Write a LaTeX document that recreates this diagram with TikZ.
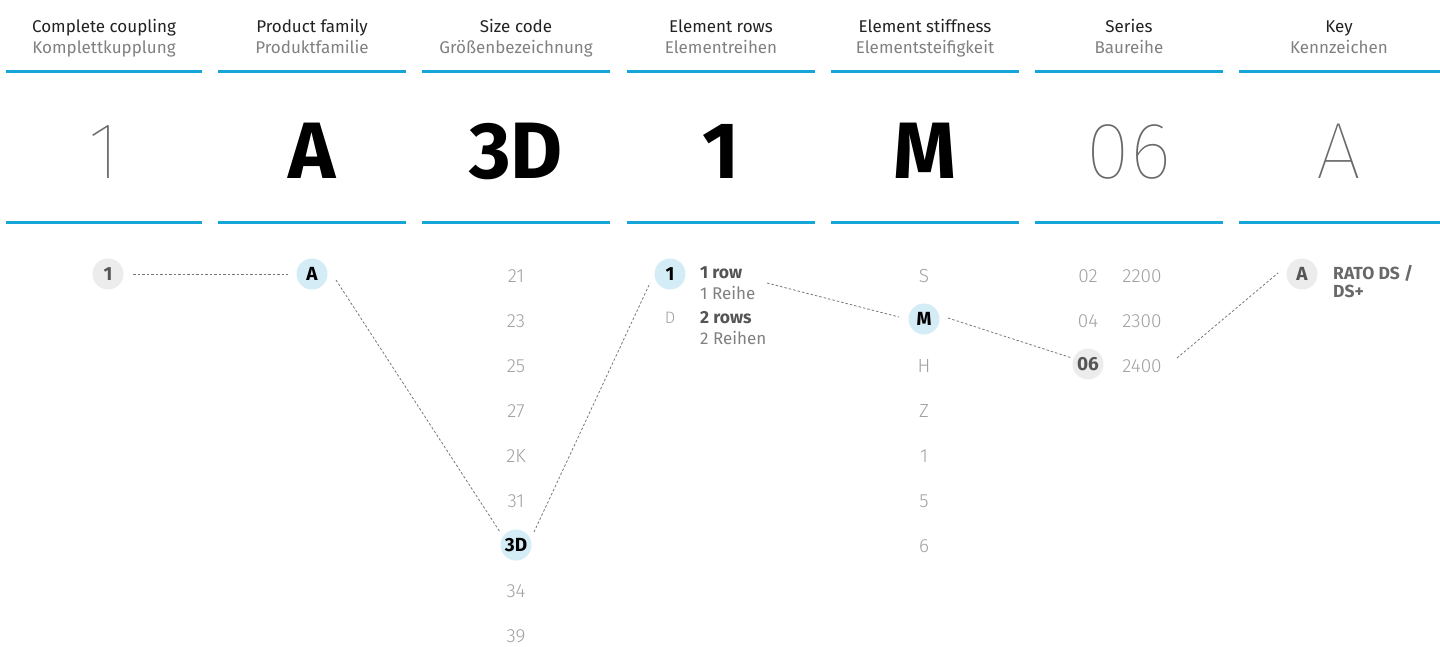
\documentclass[tikz,border=0pt]{standalone}
\usepackage{fontspec}
\setmainfont{Fira Sans}
\newfontfamily\lightfont{Fira Sans Light}
\newfontfamily\thinfont{Fira Sans Thin}
\usetikzlibrary{calc}

\definecolor{barblue}{RGB}{22,165,215}
\definecolor{pickblue}{RGB}{211,236,246}
\definecolor{pickgray}{RGB}{236,236,236}
\definecolor{hdrdark}{RGB}{34,34,34}
\definecolor{hdrgray}{RGB}{128,128,128}
\definecolor{itemgray}{RGB}{160,160,160}
\definecolor{biggray}{RGB}{105,105,105}
\definecolor{pickdark}{RGB}{85,85,85}
\definecolor{conngray}{RGB}{120,120,120}

\tikzset{
  hdrEN/.style={font=\fontsize{17}{20}\selectfont, text=hdrdark, anchor=base, inner sep=0pt},
  hdrDE/.style={font=\fontsize{17}{20}\selectfont, text=hdrgray, anchor=base, inner sep=0pt},
  bar/.style={line width=3pt, draw=barblue},
  bigbold/.style={font=\fontsize{80}{80}\selectfont\bfseries, text=black, anchor=base, inner sep=0pt},
  bigthin/.style={font=\fontsize{80}{80}\selectfont\thinfont, text=biggray, anchor=base, inner sep=0pt},
  item/.style={font=\fontsize{19}{20}\selectfont\lightfont, text=itemgray, anchor=base, inner sep=0pt},
  pick/.style={circle, minimum size=31pt, inner sep=0pt, font=\fontsize{19}{19}\selectfont\bfseries},
  pickB/.style={pick, fill=pickblue, text=black},
  pickG/.style={pick, fill=pickgray, text=pickdark},
  desc/.style={font=\fontsize{17.5}{19}\selectfont\bfseries, text=pickdark, anchor=base west, inner sep=0pt},
  descDE/.style={font=\fontsize{17}{19}\selectfont, text=hdrgray, anchor=base west, inner sep=0pt},
  conn/.style={draw=conngray, line width=0.8pt, dash pattern=on 2.5pt off 2pt},
}

\begin{document}
\begin{tikzpicture}[x=1pt,y=-1pt]
\useasboundingbox (0,0) rectangle (1440,646);

% column headings
\node[hdrEN] (h1) at (104,32) {Complete coupling};
\node[hdrDE] (g1) at (104,53) {Komplettkupplung};
\node[hdrEN] (h2) at (312,32) {Product family};
\node[hdrDE] (g2) at (312,53) {Produktfamilie};
\node[hdrEN] (h3) at (516,32) {Size code};
\node[hdrDE] (g3) at (516,53) {Größenbezeichnung};
\node[hdrEN] (h4) at (721,32) {Element rows};
\node[hdrDE] (g4) at (721,53) {Elementreihen};
\node[hdrEN] (h5) at (925,32) {Element stiffness};
\node[hdrDE] (g5) at (925,53) {Elementsteifigkeit};
\node[hdrEN] (h6) at (1129,32) {Series};
\node[hdrDE] (g6) at (1129,53) {Baureihe};
\node[hdrEN] (h7) at (1339,32) {Key};
\node[hdrDE] (g7) at (1339,53) {Kennzeichen};

% blue rules above and below the code characters
\foreach \a/\b in {6/202,218/406,422/610,627/815,831/1019,1035/1223,1239/1440}{
  \draw[bar] (\a,71) -- (\b,71);
  \draw[bar] (\a,222) -- (\b,222);
}

% the code itself
\node[bigthin] (b1) at (104,178) {1};
\node[bigbold] (b2) at (312,178) {A};
\node[bigbold] (b3) at (516,178) {3D};
\node[bigbold] (b4) at (721,178) {1};
\node[bigbold] (b5) at (925,178) {M};
\node[bigthin] (b6) at (1129,178) {06};
\node[bigthin] (b7) at (1339,178) {A};

% complete coupling
\node[pickG] (c1) at (108,274) {1};

% product family
\node[pickB] (pA) at (312,274) {A};

% size codes
\foreach \t/\k in {21/0,23/1,25/2,27/3,2K/4,31/5,34/7,39/8}
  \node[item] (sz\t) at (516,{282+45*\k}) {\t};
\node[pickB] (s3D) at (516,545) {3D};

% element rows
\node[pickB] (r1) at (670,274) {1};
\node[desc] (row1) at (700,278) {1 row};
\node[descDE] (row1de) at (700,299) {1 Reihe};
\node[item, font=\fontsize{16.5}{18}\selectfont\lightfont] (rD) at (670,323) {D};
\node[desc] (row2) at (700,323) {2 rows};
\node[descDE] (row2de) at (700,344) {2 Reihen};

% element stiffness
\foreach \t/\k in {S/0,H/2,Z/3,1/4,5/5,6/6}
  \node[item] (st\t) at (924,{282+45*\k}) {\t};
\node[pickB] (mM) at (924,319) {M};

% series
\node[item] (se02) at (1088,282) {02};
\node[item] (se04) at (1088,327) {04};
\node[pickG] (s06) at (1088,364) {06};
\node[item] (n2200) at (1142,282) {2200};
\node[item] (n2300) at (1142,327) {2300};
\node[item] (n2400) at (1142,372) {2400};

% key
\node[pickG] (kA) at (1302,274) {A};
\node[desc, text=biggray] (rato) at (1333,279) {RATO DS /};
\node[desc, text=biggray] (ratob) at (1333,297) {DS+};

% dotted selection path
\draw[conn] ([shift={(25,0)}]c1.center) -- ([shift={(-24,0)}]pA.center);
\draw[conn] ([shift={(24,6)}]pA.center) -- ([shift={(-16,-13)}]s3D.center);
\draw[conn] ([shift={(18,-13)}]s3D.center) -- ([shift={(-20,9)}]r1.center);
\draw[conn] ([shift={(67,5)}]row1.base west) -- ([shift={(-25,-2)}]mM.center);
\draw[conn] ([shift={(24,-1)}]mM.center) -- ([shift={(-16,-6)}]s06.center);
\draw[conn] ([shift={(35,-14)}]n2400.base) -- ([shift={(-24,-1)}]kA.center);
\end{tikzpicture}
\end{document}
